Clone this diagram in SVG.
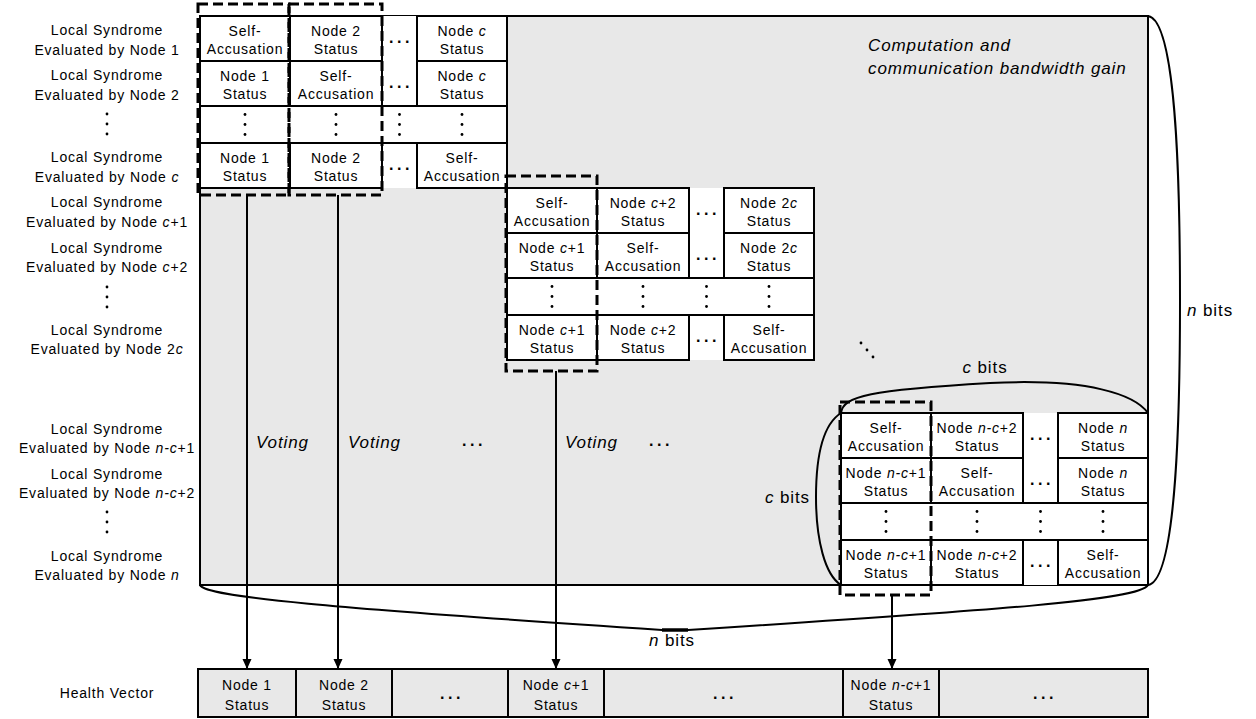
<svg xmlns="http://www.w3.org/2000/svg" xmlns:xlink="http://www.w3.org/1999/xlink" width="1256" height="719" viewBox="0 0 1256 719">
<style>
.t{font-family:"Liberation Sans",Arial,sans-serif;font-size:14px;letter-spacing:0.8px;text-anchor:middle;fill:#000}
.s{text-anchor:start}
.e{text-anchor:end}
.i{font-style:italic}
.big{font-size:17px;letter-spacing:0.9px}
.hd{font-family:"Liberation Sans",Arial,sans-serif;font-size:16px;font-weight:bold;letter-spacing:3.6px;text-anchor:middle;fill:#000}
.cell{fill:#fff;stroke:#000;stroke-width:2}
.bg{fill:#fff;stroke:none}
.gray{fill:#e8e8e8;stroke:#000;stroke-width:2}
.dash{fill:none;stroke:#000;stroke-width:3;stroke-dasharray:10 5}
.brace{fill:none;stroke:#000;stroke-width:2}
.arrow{fill:none;stroke:#000;stroke-width:2;marker-end:url(#ah)}
</style>
<defs>
<marker id="ah" markerUnits="userSpaceOnUse" markerWidth="10" markerHeight="10" refX="10" refY="4.5" orient="auto">
<path d="M0,0 L10,4.5 L0,9 z" fill="#000"/>
</marker>
<g id="vd"><circle cx="0" cy="-10" r="1.4"/><circle cx="0" cy="0" r="1.4"/><circle cx="0" cy="10" r="1.4"/></g>
</defs>
<rect width="1256" height="719" fill="#fff"/>

<g id="syndrome-area">
<rect class="gray" x="200" y="16" width="948" height="569"/>
<text class="t i big s" x="868" y="51">Computation and</text>
<text class="t i big s" x="868" y="74">communication bandwidth gain</text>
</g>

<g id="row-labels">
<text class="t" x="107" y="35">Local Syndrome</text><text class="t" x="107" y="55">Evaluated by Node 1</text>
<text class="t" x="107" y="80">Local Syndrome</text><text class="t" x="107" y="100">Evaluated by Node 2</text>
<use xlink:href="#vd" x="107" y="124"/>
<text class="t" x="107" y="162">Local Syndrome</text><text class="t" x="107" y="182">Evaluated by Node <tspan class="i">c</tspan></text>
<text class="t" x="107" y="207">Local Syndrome</text><text class="t" x="107" y="227">Evaluated by Node <tspan class="i">c</tspan>+1</text>
<text class="t" x="107" y="253">Local Syndrome</text><text class="t" x="107" y="272">Evaluated by Node <tspan class="i">c</tspan>+2</text>
<use xlink:href="#vd" x="107" y="297"/>
<text class="t" x="107" y="335">Local Syndrome</text><text class="t" x="107" y="354">Evaluated by Node 2<tspan class="i">c</tspan></text>
<text class="t" x="107" y="434">Local Syndrome</text><text class="t" x="107" y="453">Evaluated by Node <tspan class="i">n-c</tspan>+1</text>
<text class="t" x="107" y="479">Local Syndrome</text><text class="t" x="107" y="498">Evaluated by Node <tspan class="i">n-c</tspan>+2</text>
<use xlink:href="#vd" x="107" y="522"/>
<text class="t" x="107" y="561">Local Syndrome</text><text class="t" x="107" y="580">Evaluated by Node <tspan class="i">n</tspan></text>
<text class="t" x="107" y="698">Health Vector</text>
</g>

<!-- Block 1 -->
<g id="block1">
<rect class="bg" x="200" y="16" width="307" height="172"/>
<g id="b1-r1c1"><rect class="cell" x="200" y="16" width="90" height="45"/><text class="t" x="245" y="36">Self-</text><text class="t" x="245" y="54">Accusation</text></g>
<g id="b1-r1c2"><rect class="cell" x="290" y="16" width="92" height="45"/><text class="t" x="336" y="36">Node 2</text><text class="t" x="336" y="54">Status</text></g>
<g id="b1-r1c4"><rect class="cell" x="417" y="16" width="90" height="45"/><text class="t" x="462" y="36">Node <tspan class="i">c</tspan></text><text class="t" x="462" y="54">Status</text></g>
<g id="b1-r2c1"><rect class="cell" x="200" y="61" width="90" height="45"/><text class="t" x="245" y="81">Node 1</text><text class="t" x="245" y="99">Status</text></g>
<g id="b1-r2c2"><rect class="cell" x="290" y="61" width="92" height="45"/><text class="t" x="336" y="81">Self-</text><text class="t" x="336" y="99">Accusation</text></g>
<g id="b1-r2c4"><rect class="cell" x="417" y="61" width="90" height="45"/><text class="t" x="462" y="81">Node <tspan class="i">c</tspan></text><text class="t" x="462" y="99">Status</text></g>
<g id="b1-dots"><rect class="cell" x="200" y="106" width="307" height="37"/>
<use xlink:href="#vd" x="245" y="124.5"/><use xlink:href="#vd" x="336" y="124.5"/><use xlink:href="#vd" x="399.5" y="124.5"/><use xlink:href="#vd" x="462" y="124.5"/></g>
<g id="b1-r4c1"><rect class="cell" x="200" y="143" width="90" height="45"/><text class="t" x="245" y="163">Node 1</text><text class="t" x="245" y="181">Status</text></g>
<g id="b1-r4c2"><rect class="cell" x="290" y="143" width="92" height="45"/><text class="t" x="336" y="163">Node 2</text><text class="t" x="336" y="181">Status</text></g>
<g id="b1-r4c4"><rect class="cell" x="417" y="143" width="90" height="45"/><text class="t" x="462" y="163">Self-</text><text class="t" x="462" y="181">Accusation</text></g>
<text class="hd" x="401" y="43">...</text><text class="hd" x="401" y="88">...</text><text class="hd" x="401" y="170">...</text>
</g>

<!-- Block 2 -->
<g id="block2">
<rect class="bg" x="507" y="188" width="307" height="172"/>
<g id="b2-r1c1"><rect class="cell" x="507" y="188" width="90" height="45"/><text class="t" x="552" y="208">Self-</text><text class="t" x="552" y="226">Accusation</text></g>
<g id="b2-r1c2"><rect class="cell" x="597" y="188" width="92" height="45"/><text class="t" x="643" y="208">Node <tspan class="i">c</tspan>+2</text><text class="t" x="643" y="226">Status</text></g>
<g id="b2-r1c4"><rect class="cell" x="724" y="188" width="90" height="45"/><text class="t" x="769" y="208">Node 2<tspan class="i">c</tspan></text><text class="t" x="769" y="226">Status</text></g>
<g id="b2-r2c1"><rect class="cell" x="507" y="233" width="90" height="45"/><text class="t" x="552" y="253">Node <tspan class="i">c</tspan>+1</text><text class="t" x="552" y="271">Status</text></g>
<g id="b2-r2c2"><rect class="cell" x="597" y="233" width="92" height="45"/><text class="t" x="643" y="253">Self-</text><text class="t" x="643" y="271">Accusation</text></g>
<g id="b2-r2c4"><rect class="cell" x="724" y="233" width="90" height="45"/><text class="t" x="769" y="253">Node 2<tspan class="i">c</tspan></text><text class="t" x="769" y="271">Status</text></g>
<g id="b2-dots"><rect class="cell" x="507" y="278" width="307" height="37"/>
<use xlink:href="#vd" x="552" y="296.5"/><use xlink:href="#vd" x="643" y="296.5"/><use xlink:href="#vd" x="706.5" y="296.5"/><use xlink:href="#vd" x="769" y="296.5"/></g>
<g id="b2-r4c1"><rect class="cell" x="507" y="315" width="90" height="45"/><text class="t" x="552" y="335">Node <tspan class="i">c</tspan>+1</text><text class="t" x="552" y="353">Status</text></g>
<g id="b2-r4c2"><rect class="cell" x="597" y="315" width="92" height="45"/><text class="t" x="643" y="335">Node <tspan class="i">c</tspan>+2</text><text class="t" x="643" y="353">Status</text></g>
<g id="b2-r4c4"><rect class="cell" x="724" y="315" width="90" height="45"/><text class="t" x="769" y="335">Self-</text><text class="t" x="769" y="353">Accusation</text></g>
<text class="hd" x="708" y="215">...</text><text class="hd" x="708" y="260">...</text><text class="hd" x="708" y="342">...</text>
</g>

<g id="diag-dots"><circle cx="861" cy="343" r="1.4"/><circle cx="867" cy="350" r="1.4"/><circle cx="873" cy="357" r="1.4"/></g>

<!-- Block 3 -->
<g id="block3">
<rect class="bg" x="841" y="413" width="307" height="172"/>
<g id="b3-r1c1"><rect class="cell" x="841" y="413" width="90" height="45"/><text class="t" x="886" y="433">Self-</text><text class="t" x="886" y="451">Accusation</text></g>
<g id="b3-r1c2"><rect class="cell" x="931" y="413" width="92" height="45"/><text class="t" x="977" y="433">Node <tspan class="i">n-c</tspan>+2</text><text class="t" x="977" y="451">Status</text></g>
<g id="b3-r1c4"><rect class="cell" x="1058" y="413" width="90" height="45"/><text class="t" x="1103" y="433">Node <tspan class="i">n</tspan></text><text class="t" x="1103" y="451">Status</text></g>
<g id="b3-r2c1"><rect class="cell" x="841" y="458" width="90" height="45"/><text class="t" x="886" y="478">Node <tspan class="i">n-c</tspan>+1</text><text class="t" x="886" y="496">Status</text></g>
<g id="b3-r2c2"><rect class="cell" x="931" y="458" width="92" height="45"/><text class="t" x="977" y="478">Self-</text><text class="t" x="977" y="496">Accusation</text></g>
<g id="b3-r2c4"><rect class="cell" x="1058" y="458" width="90" height="45"/><text class="t" x="1103" y="478">Node <tspan class="i">n</tspan></text><text class="t" x="1103" y="496">Status</text></g>
<g id="b3-dots"><rect class="cell" x="841" y="503" width="307" height="37"/>
<use xlink:href="#vd" x="886" y="521.5"/><use xlink:href="#vd" x="977" y="521.5"/><use xlink:href="#vd" x="1040.5" y="521.5"/><use xlink:href="#vd" x="1103" y="521.5"/></g>
<g id="b3-r4c1"><rect class="cell" x="841" y="540" width="90" height="45"/><text class="t" x="886" y="560">Node <tspan class="i">n-c</tspan>+1</text><text class="t" x="886" y="578">Status</text></g>
<g id="b3-r4c2"><rect class="cell" x="931" y="540" width="92" height="45"/><text class="t" x="977" y="560">Node <tspan class="i">n-c</tspan>+2</text><text class="t" x="977" y="578">Status</text></g>
<g id="b3-r4c4"><rect class="cell" x="1058" y="540" width="90" height="45"/><text class="t" x="1103" y="560">Self-</text><text class="t" x="1103" y="578">Accusation</text></g>
<text class="hd" x="1042" y="440">...</text><text class="hd" x="1042" y="485">...</text><text class="hd" x="1042" y="567">...</text>
</g>

<g id="vote-groups">
<rect class="dash" x="198" y="4" width="91" height="191"/>
<rect class="dash" x="289" y="4" width="93" height="191"/>
<rect class="dash" x="506" y="176" width="91" height="195"/>
<rect class="dash" x="840" y="402" width="91" height="193"/>
</g>

<g id="braces">
<path class="brace" d="M1148,16 C1178,20 1180,200 1180,300 C1180,400 1178,581 1148,585"/>
<text class="t big s" x="1187" y="316"><tspan class="i">n</tspan> bits</text>
<path class="brace" d="M200,585 C205,597 330,608 662,630 L688,630 C1000,610 1140,600 1148,585"/>
<line x1="662" y1="630" x2="688" y2="630" stroke="#000" stroke-width="3.5"/>
<text class="t big" x="672" y="646"><tspan class="i">n</tspan> bits</text>
<path class="brace" d="M841,413 C843,396 870,390 990,383 C1090,378 1135,395 1148,413"/>
<text class="t big" x="985" y="373"><tspan class="i">c</tspan> bits</text>
<path class="brace" d="M841,413 C822,425 816,460 816,497 C816,540 825,575 841,585"/>
<text class="t big e" x="810" y="503"><tspan class="i">c</tspan> bits</text>
</g>

<g id="connectors">
<line class="arrow" x1="247" y1="195" x2="247" y2="669"/>
<line class="arrow" x1="338" y1="195" x2="338" y2="669"/>
<line class="arrow" x1="556" y1="371" x2="556" y2="669"/>
<line class="arrow" x1="892" y1="595" x2="892" y2="669"/>
<text class="t i big s" x="256" y="448">Voting</text>
<text class="t i big s" x="348" y="448">Voting</text>
<text class="t i big s" x="565" y="448">Voting</text>
<text class="hd" x="474" y="446">...</text>
<text class="hd" x="661" y="446">...</text>
</g>

<g id="health-vector">
<g id="hv1"><rect class="gray" x="198" y="669" width="98" height="48"/><text class="t" x="247" y="690">Node 1</text><text class="t" x="247" y="710">Status</text></g>
<g id="hv2"><rect class="gray" x="296" y="669" width="96" height="48"/><text class="t" x="344" y="690">Node 2</text><text class="t" x="344" y="710">Status</text></g>
<g id="hv3"><rect class="gray" x="392" y="669" width="116" height="48"/><text class="hd" x="452" y="699">...</text></g>
<g id="hv4"><rect class="gray" x="508" y="669" width="96" height="48"/><text class="t" x="556" y="690">Node <tspan class="i">c</tspan>+1</text><text class="t" x="556" y="710">Status</text></g>
<g id="hv5"><rect class="gray" x="604" y="669" width="239" height="48"/><text class="hd" x="725" y="699">...</text></g>
<g id="hv6"><rect class="gray" x="843" y="669" width="96" height="48"/><text class="t" x="891" y="690">Node <tspan class="i">n-c</tspan>+1</text><text class="t" x="891" y="710">Status</text></g>
<g id="hv7"><rect class="gray" x="939" y="669" width="209" height="48"/><text class="hd" x="1045" y="699">...</text></g>
</g>
</svg>
